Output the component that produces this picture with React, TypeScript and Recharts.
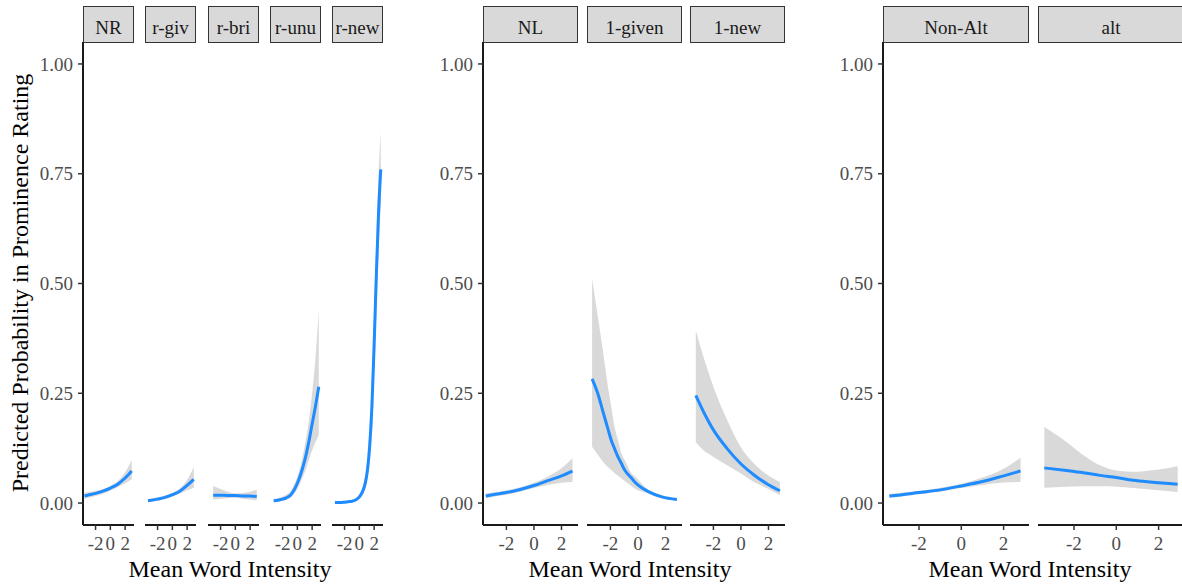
import React from 'react';
import { ComposedChart, Line, Area, XAxis, YAxis } from 'recharts';

// ---------- tick labels & categories ----------
const xTicks = [-2, 0, 2];
const yTicks = [0, 0.25, 0.5, 0.75, 1];
const group1Labels = ['NR', 'r-giv', 'r-bri', 'r-unu', 'r-new'];
const group2Labels = ['NL', '1-given', '1-new'];
const group3Labels = ['Non-Alt', 'alt'];
const xTitle = 'Mean Word Intensity';
const yTitle = 'Predicted Probability in Prominence Rating';

// ---------- series values (x, fitted prob, lower, upper) ----------
const nrX = [-3.5, -3, -2, -1, 0, 1, 2, 2.9];
const nrY = [0.016, 0.018, 0.022, 0.027, 0.034, 0.043, 0.057, 0.073];
const nrLo = [0.01, 0.012, 0.016, 0.021, 0.028, 0.036, 0.045, 0.054];
const nrHi = [0.024, 0.025, 0.028, 0.032, 0.039, 0.05, 0.07, 0.098];

const rgivX = [-3.3, -2, -1, 0, 1, 2, 2.9];
const rgivY = [0.005, 0.009, 0.013, 0.019, 0.027, 0.04, 0.054];
const rgivLo = [0.002, 0.005, 0.009, 0.014, 0.021, 0.029, 0.035];
const rgivHi = [0.009, 0.013, 0.017, 0.023, 0.033, 0.053, 0.082];

const rbriX = [-3.0, -2, -1, 0, 1, 2, 2.9];
const rbriY = [0.018, 0.018, 0.017, 0.017, 0.016, 0.016, 0.015];
const rbriLo = [0.008, 0.01, 0.011, 0.012, 0.01, 0.008, 0.006];
const rbriHi = [0.039, 0.032, 0.026, 0.022, 0.023, 0.026, 0.03];

const runuX = [-3.2, -2.5, -2, -1.5, -1, -0.5, 0, 0.5, 1, 1.5, 2, 2.5, 2.9];
const runuY = [0.005, 0.007, 0.009, 0.012, 0.017, 0.028, 0.045, 0.068, 0.097, 0.135, 0.18, 0.225, 0.265];
const runuLo = [0.002, 0.004, 0.005, 0.007, 0.011, 0.019, 0.032, 0.05, 0.07, 0.095, 0.12, 0.14, 0.155];
const runuHi = [0.009, 0.012, 0.015, 0.019, 0.026, 0.04, 0.06, 0.09, 0.13, 0.18, 0.25, 0.34, 0.44];

const rnewX = [-3.3, -2.5, -2, -1.5, -1, -0.5, 0, 0.4, 0.8, 1.1, 1.4, 1.7, 2.0, 2.3, 2.6, 2.9];
const rnewY = [0.001, 0.001, 0.002, 0.003, 0.004, 0.007, 0.014, 0.025, 0.045, 0.075, 0.13, 0.22, 0.36, 0.52, 0.66, 0.76];
const rnewLo = [0, 0, 0.001, 0.002, 0.003, 0.004, 0.009, 0.017, 0.032, 0.055, 0.095, 0.16, 0.28, 0.43, 0.57, 0.68];
const rnewHi = [0.002, 0.002, 0.003, 0.005, 0.007, 0.011, 0.02, 0.035, 0.065, 0.105, 0.18, 0.29, 0.45, 0.61, 0.75, 0.845];

const nlX = [-3.5, -3, -2, -1, 0, 1, 2, 2.8];
const nlY = [0.016, 0.019, 0.024, 0.031, 0.04, 0.051, 0.062, 0.073];
const nlLo = [0.011, 0.014, 0.019, 0.026, 0.034, 0.041, 0.046, 0.048];
const nlHi = [0.022, 0.024, 0.029, 0.036, 0.046, 0.06, 0.079, 0.102];

const givenX = [-3.33, -2.91, -2.55, -2.18, -1.94, -1.7, -1.45, -1.2, -0.96, -0.47, -0.23, 0.76, 1.73, 2.83];
const givenY = [0.283, 0.249, 0.209, 0.169, 0.143, 0.124, 0.105, 0.09, 0.075, 0.057, 0.048, 0.026, 0.014, 0.008];
const givenLo = [0.128, 0.11, 0.094, 0.082, 0.075, 0.068, 0.062, 0.056, 0.05, 0.039, 0.033, 0.022, 0.012, 0.005];
const givenHi = [0.511, 0.424, 0.348, 0.265, 0.22, 0.174, 0.143, 0.113, 0.098, 0.068, 0.061, 0.03, 0.018, 0.01];

const newX = [-3.28, -2.72, -1.99, -1.0, -0.03, 0.95, 1.93, 2.83];
const newY = [0.245, 0.208, 0.166, 0.124, 0.09, 0.064, 0.043, 0.028];
const newLo = [0.139, 0.12, 0.105, 0.086, 0.068, 0.048, 0.033, 0.018];
const newHi = [0.393, 0.333, 0.264, 0.189, 0.128, 0.09, 0.064, 0.048];

const nonAltX = [-3.4, -3, -2, -1, 0, 1, 2, 2.8];
const nonAltY = [0.016, 0.018, 0.024, 0.03, 0.039, 0.049, 0.062, 0.073];
const nonAltLo = [0.012, 0.014, 0.02, 0.026, 0.034, 0.041, 0.047, 0.048];
const nonAltHi = [0.021, 0.023, 0.028, 0.035, 0.044, 0.058, 0.078, 0.103];

const altX = [-3.4, -2.35, -1.56, -0.77, 0, 0.8, 1.6, 2.9];
const altY = [0.08, 0.074, 0.069, 0.063, 0.058, 0.052, 0.048, 0.043];
const altLo = [0.035, 0.037, 0.038, 0.038, 0.037, 0.034, 0.031, 0.025];
const altHi = [0.173, 0.139, 0.109, 0.086, 0.074, 0.071, 0.074, 0.084];

// ---------- layout ----------
const FONT = "'Liberation Serif', 'Times New Roman', serif";
const PLOT_TOP = 42;
const PLOT_H = 483;
const XAXIS_H = 50;
const YAXIS_W = 83;
const STRIP_TOP = 6;
const STRIP_H = 37;
const X_DOMAIN: [number, number] = [-3.7, 3.2];
const Y_DOMAIN: [number, number] = [-0.05, 1.05];

type Series = { x: number[]; y: number[]; lo: number[]; hi: number[] };

const group1Series: Series[] = [
  { x: nrX, y: nrY, lo: nrLo, hi: nrHi },
  { x: rgivX, y: rgivY, lo: rgivLo, hi: rgivHi },
  { x: rbriX, y: rbriY, lo: rbriLo, hi: rbriHi },
  { x: runuX, y: runuY, lo: runuLo, hi: runuHi },
  { x: rnewX, y: rnewY, lo: rnewLo, hi: rnewHi },
];
const group2Series: Series[] = [
  { x: nlX, y: nlY, lo: nlLo, hi: nlHi },
  { x: givenX, y: givenY, lo: givenLo, hi: givenHi },
  { x: newX, y: newY, lo: newLo, hi: newHi },
];
const group3Series: Series[] = [
  { x: nonAltX, y: nonAltY, lo: nonAltLo, hi: nonAltHi },
  { x: altX, y: altY, lo: altLo, hi: altHi },
];

const groups = [
  { labels: group1Labels, series: group1Series, left: 83, width: 51, pitch: 62.25, titleCenter: 230 },
  { labels: group2Labels, series: group2Series, left: 483, width: 95, pitch: 103.5, titleCenter: 630 },
  { labels: group3Labels, series: group3Series, left: 883, width: 146, pitch: 155, titleCenter: 1030 },
];

function FacetChart({ s, left, width, showY }: { s: Series; left: number; width: number; showY: boolean }) {
  const data = s.x.map((xv, i) => ({ x: xv, y: s.y[i], band: [s.lo[i], s.hi[i]] }));
  const yW = showY ? YAXIS_W : 0;
  return (
    <div style={{ position: 'absolute', left: left - yW, top: PLOT_TOP }}>
      <ComposedChart
        width={width + yW}
        height={PLOT_H + XAXIS_H}
        data={data}
        margin={{ top: 0, right: 0, bottom: 0, left: 0 }}
      >
        <XAxis
          dataKey="x"
          type="number"
          domain={X_DOMAIN}
          ticks={xTicks}
          interval={0}
          allowDataOverflow
          height={XAXIS_H}
          tickSize={5}
          tickMargin={7}
          axisLine={{ stroke: '#1a1a1a', strokeWidth: 2 }}
          tickLine={{ stroke: '#333333', strokeWidth: 1.5 }}
          tick={{ fill: '#4d4d4d', fontSize: 19, fontFamily: FONT }}
        />
        <YAxis
          type="number"
          domain={Y_DOMAIN}
          ticks={yTicks}
          interval={0}
          allowDataOverflow
          hide={!showY}
          width={YAXIS_W}
          tickSize={5}
          tickMargin={5}
          tickFormatter={(v: number) => v.toFixed(2)}
          axisLine={{ stroke: '#1a1a1a', strokeWidth: 2 }}
          tickLine={{ stroke: '#333333', strokeWidth: 1.5 }}
          tick={{ fill: '#4d4d4d', fontSize: 19, fontFamily: FONT }}
        />
        <Area
          dataKey="band"
          type="monotone"
          stroke="none"
          fill="#d9d9d9"
          fillOpacity={1}
          isAnimationActive={false}
        />
        <Line
          dataKey="y"
          type="monotone"
          stroke="#1e8cff"
          strokeWidth={3}
          dot={false}
          isAnimationActive={false}
        />
      </ComposedChart>
    </div>
  );
}

export default function App() {
  return (
    <div
      style={{
        position: 'absolute',
        left: 0,
        top: 0,
        width: 1182,
        height: 588,
        background: '#ffffff',
        overflow: 'hidden',
        fontFamily: FONT,
      }}
    >
      {groups.map((g, gi) => (
        <React.Fragment key={gi}>
          {g.series.map((s, fi) => {
            const left = Math.round(g.left + fi * g.pitch);
            return (
              <React.Fragment key={fi}>
                <FacetChart s={s} left={left} width={g.width} showY={fi === 0} />
                <div
                  style={{
                    position: 'absolute',
                    left,
                    top: STRIP_TOP,
                    width: g.width,
                    height: STRIP_H,
                    boxSizing: 'border-box',
                    border: '1.5px solid #333333',
                    background: '#d9d9d9',
                    color: '#1a1a1a',
                    fontSize: 19,
                    display: 'flex',
                    alignItems: 'center',
                    justifyContent: 'center',
                    paddingTop: 6,
                    whiteSpace: 'nowrap',
                  }}
                >
                  {g.labels[fi]}
                </div>
              </React.Fragment>
            );
          })}
          <div
            style={{
              position: 'absolute',
              left: g.titleCenter - 150,
              width: 300,
              top: 557,
              lineHeight: '24px',
              fontSize: 24,
              textAlign: 'center',
              color: '#000000',
            }}
          >
            {xTitle}
          </div>
        </React.Fragment>
      ))}
      <div
        style={{
          position: 'absolute',
          left: 20 - 260,
          top: 283 - 15,
          width: 520,
          height: 30,
          lineHeight: '30px',
          fontSize: 24,
          textAlign: 'center',
          color: '#000000',
          transform: 'rotate(-90deg)',
          whiteSpace: 'nowrap',
        }}
      >
        {yTitle}
      </div>
    </div>
  );
}
